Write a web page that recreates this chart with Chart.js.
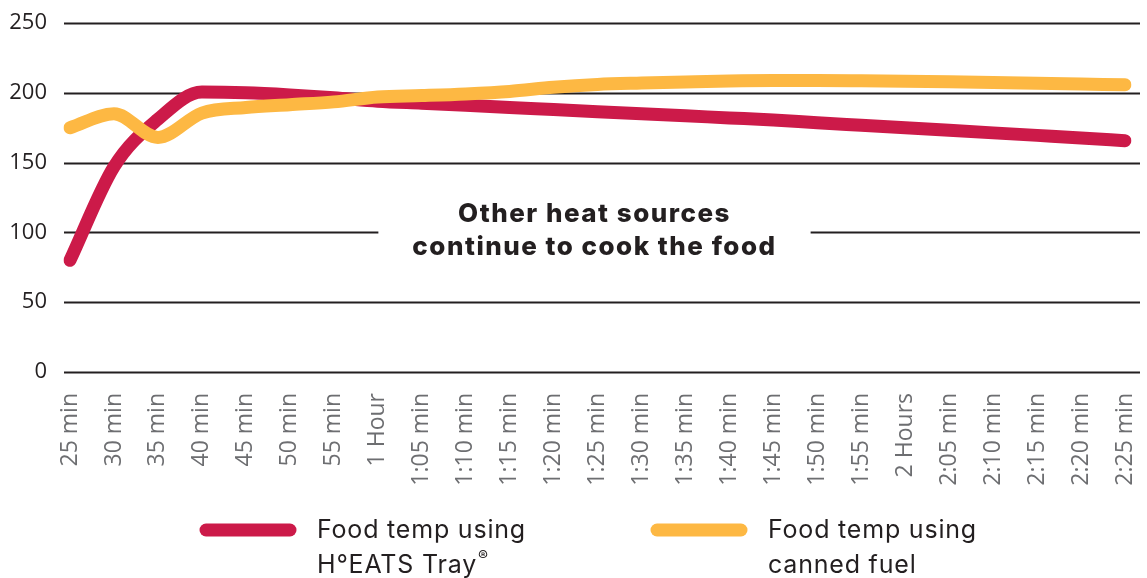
<!DOCTYPE html>
<html lang="en">

<head>
  <meta charset="UTF-8">
  <title>Food temperature</title>
  <script src="https://cdn.jsdelivr.net/npm/chart.js"></script>
  <style>
    html, body { margin: 0; padding: 0; background: #fff; }
    .wrap { width: 1147px; height: 578px; }
  </style>
</head>

<body>
  <div class="wrap"><canvas id="tempChart" width="1147" height="578"></canvas></div>

  <script>
    const timeLabels = ['25 min', '30 min', '35 min', '40 min', '45 min', '50 min', '55 min', '1 Hour',
      '1:05 min', '1:10 min', '1:15 min', '1:20 min', '1:25 min', '1:30 min', '1:35 min', '1:40 min',
      '1:45 min', '1:50 min', '1:55 min', '2 Hours', '2:05 min', '2:10 min', '2:15 min', '2:20 min', '2:25 min'];
    const trayTemps = [80, 147, 181, 200.5, 200, 198.5, 196.5, 194, 192.5, 191, 189.5, 188, 186.5, 185,
      183.5, 182, 180.5, 178.5, 176.7, 174.9, 173.1, 171.3, 169.5, 167.7, 165.7];
    const fuelTemps = [175, 185, 168, 185.5, 189.5, 191.5, 193.5, 197, 198, 199.2, 201, 204, 206, 207,
      207.8, 208.5, 208.8, 208.8, 208.6, 208.3, 207.9, 207.4, 206.9, 206.3, 205.7];
    const yTicks = [0, 50, 100, 150, 200, 250];
    const trayLegend = ['Food temp using', 'H°EATS Tray'];
    const fuelLegend = ['Food temp using', 'canned fuel'];
    const noteLines = ['Other heat sources', 'continue to cook the food'];

    const RED = '#cc1a49';
    const YELLOW = '#fdb843';
    const INK = '#231f20';

    // horizontal rules + the note in the middle
    const gridAndNote = {
      id: 'gridAndNote',
      beforeDatasetsDraw(chart) {
        const { ctx, chartArea, scales } = chart;
        const left = chartArea.left - 6, right = chartArea.right + 15;
        const cx = (chartArea.left + chartArea.right) / 2 - 3;

        ctx.save();
        ctx.font = '800 26px Inter';
        ctx.letterSpacing = '1.5px';
        const noteW = Math.max(...noteLines.map(t => ctx.measureText(t).width));
        const gapL = cx - noteW / 2 - 34, gapR = cx + noteW / 2 + 34;

        ctx.strokeStyle = INK;
        ctx.lineWidth = 2;
        yTicks.forEach(v => {
          const y = Math.round(scales.y.getPixelForValue(v)) + 0.5;
          ctx.beginPath();
          if (v === 100) {
            ctx.moveTo(left, y); ctx.lineTo(gapL, y);
            ctx.moveTo(gapR, y); ctx.lineTo(right, y);
          } else {
            ctx.moveTo(left, y); ctx.lineTo(right, y);
          }
          ctx.stroke();
        });

        const yMid = scales.y.getPixelForValue(100);
        ctx.fillStyle = INK;
        ctx.textAlign = 'center';
        ctx.textBaseline = 'middle';
        ctx.fillText(noteLines[0], cx, yMid - 18);
        ctx.fillText(noteLines[1], cx, yMid + 15);
        ctx.restore();
      }
    };

    // two-line legend under the axis
    const bottomLegend = {
      id: 'bottomLegend',
      afterDraw(chart) {
        const { ctx } = chart;
        const items = [
          { color: RED, lines: trayLegend, x: 200, reg: true },
          { color: YELLOW, lines: fuelLegend, x: 651, reg: false }
        ];
        const y = 530;
        ctx.save();
        items.forEach(it => {
          ctx.strokeStyle = it.color;
          ctx.lineWidth = 13;
          ctx.lineCap = 'round';
          ctx.beginPath();
          ctx.moveTo(it.x + 6, y);
          ctx.lineTo(it.x + 90, y);
          ctx.stroke();

          ctx.fillStyle = INK;
          ctx.font = '25px Inter';
          ctx.letterSpacing = '0.8px';
          ctx.textAlign = 'left';
          ctx.textBaseline = 'middle';
          const tx = it.x + 117;
          ctx.fillText(it.lines[0], tx, y);
          ctx.fillText(it.lines[1], tx, y + 35);
          if (it.reg) {
            const w = ctx.measureText(it.lines[1]).width;
            ctx.font = '15px Inter';
            ctx.letterSpacing = '0px';
            ctx.fillText('®', tx + w + 1, y + 26);
          }
        });
        ctx.restore();
      }
    };

    new Chart(document.getElementById('tempChart'), {
      type: 'line',
      data: {
        labels: timeLabels,
        datasets: [{
          label: trayLegend.join(' '),
          data: trayTemps,
          borderColor: RED,
          borderWidth: 13,
          order: 2
        }, {
          label: fuelLegend.join(' '),
          data: fuelTemps,
          borderColor: YELLOW,
          borderWidth: 13,
          order: 1
        }]
      },
      options: {
        responsive: false,
        animation: false,
        devicePixelRatio: 1,
        layout: { padding: { top: 23, right: 22, left: 0, bottom: 0 } },
        elements: {
          point: { radius: 0, hoverRadius: 0 },
          line: { cubicInterpolationMode: 'monotone', borderCapStyle: 'round', borderJoinStyle: 'round', fill: false }
        },
        plugins: {
          legend: { display: false },
          tooltip: { enabled: false }
        },
        scales: {
          x: {
            grid: { display: false, drawTicks: false },
            border: { display: false },
            ticks: {
              autoSkip: false,
              maxRotation: 90,
              minRotation: 90,
              padding: 21,
              color: '#6d6e71',
              font: { family: 'Open Sans', size: 23 }
            },
            afterFit(scale) {
              scale.height = 206;
              scale.paddingLeft = 0;
              scale.paddingRight = 0;
            }
          },
          y: {
            min: 0,
            max: 250,
            grid: { display: false, drawTicks: false },
            border: { display: false },
            ticks: {
              stepSize: 50,
              padding: 23,
              color: INK,
              font: { family: 'Open Sans', size: 22 }
            },
            afterFit(scale) {
              scale.width = 70;
              scale.paddingTop = 0;
              scale.paddingBottom = 0;
            }
          }
        }
      },
      plugins: [gridAndNote, bottomLegend]
    });
  </script>
</body>

</html>
